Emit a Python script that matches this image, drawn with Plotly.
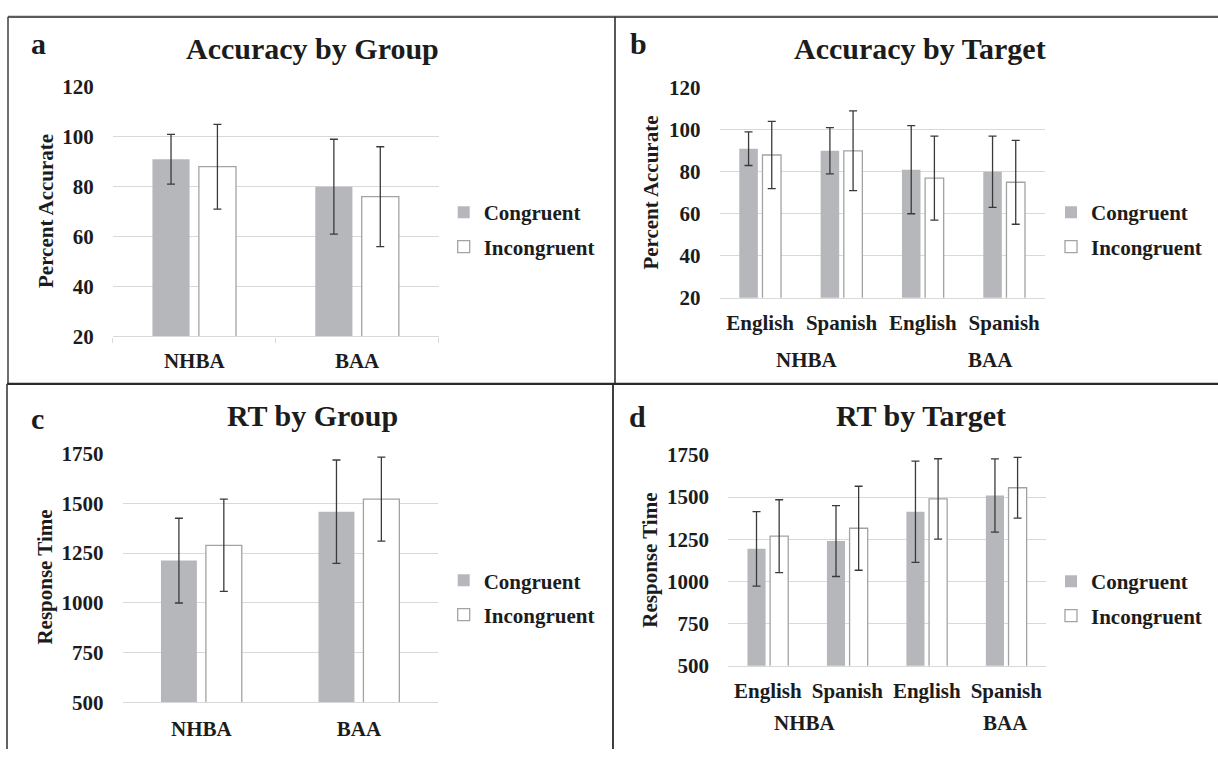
import plotly.graph_objects as go

W, H = 1218, 761

# ---- data -----------------------------------------------------------------
conditions = ["Congruent", "Incongruent"]
groups = ["NHBA", "BAA"]
targets = ["English", "Spanish", "English", "Spanish"]
target_groups = ["NHBA", "NHBA", "BAA", "BAA"]

acc_group_cong = [91, 80]
acc_group_cong_err = [10, 19]
acc_group_incong = [88, 76]
acc_group_incong_err = [17, 20]

acc_target_cong = [91, 90, 81, 80]
acc_target_cong_err = [8, 11, 21, 17]
acc_target_incong = [88, 90, 77, 75]
acc_target_incong_err = [16, 19, 20, 20]

rt_group_cong = [1212, 1458]
rt_group_cong_err = [213, 260]
rt_group_incong = [1289, 1521]
rt_group_incong_err = [232, 211]

rt_target_cong = [1193, 1239, 1413, 1509]
rt_target_cong_err = [221, 210, 300, 217]
rt_target_incong = [1268, 1315, 1489, 1555]
rt_target_incong_err = [216, 249, 238, 180]

acc_ticks = [20, 40, 60, 80, 100, 120]
rt_ticks = [500, 750, 1000, 1250, 1500, 1750]

# ---- styling --------------------------------------------------------------
FONT = "Liberation Serif"
INK = "#1c1c1c"
CONG_FILL = "#b6b7ba"
INCONG_EDGE = "#a3a3a3"
ERR_COLOR = "#3a3a3a"
GRID = "#d9d9d9"
LABEL_SIZE = 21
TITLE_SIZE = 30


def fx(p):
    return p / W


def fy(p):
    return 1 - p / H


target_keys = [f"{g} {t}" for g, t in zip(target_groups, targets)]

panels = [
    ("", groups, acc_group_cong, acc_group_cong_err, acc_group_incong, acc_group_incong_err),
    ("2", target_keys, acc_target_cong, acc_target_cong_err, acc_target_incong, acc_target_incong_err),
    ("3", groups, rt_group_cong, rt_group_cong_err, rt_group_incong, rt_group_incong_err),
    ("4", target_keys, rt_target_cong, rt_target_cong_err, rt_target_incong, rt_target_incong_err),
]

fig = go.Figure()
for suf, xs, cv, ce, iv, ie in panels:
    leg = "legend" + suf
    fig.add_trace(go.Bar(
        x=xs, y=cv, name=conditions[0],
        xaxis="x" + suf, yaxis="y" + suf, legend=leg, legendgroup=f"c{suf}",
        marker=dict(color=CONG_FILL, line=dict(color=CONG_FILL, width=0)),
        error_y=dict(type="data", array=ce, visible=True, color=ERR_COLOR,
                     thickness=1.3, width=4),
    ))
    fig.add_trace(go.Bar(
        x=xs, y=iv, name=conditions[1],
        xaxis="x" + suf, yaxis="y" + suf, legend=leg, legendgroup=f"i{suf}",
        marker=dict(color="white", line=dict(color=INCONG_EDGE, width=1.3)),
        error_y=dict(type="data", array=ie, visible=True, color=ERR_COLOR,
                     thickness=1.3, width=4),
    ))

# plot-area rectangles in pixels: (left, right, top, bottom)
areas = {
    "": (112.8, 438.5, 77.3, 335.0),
    "2": (719.5, 1044.8, 78.3, 295.0),
    "3": (122.6, 437.7, 456.0, 712.7),
    "4": (728.1, 1046.0, 457.3, 675.0),
}
yranges = {"": acc_ticks, "2": acc_ticks, "3": rt_ticks, "4": rt_ticks}
xlabel_standoff = {"": 5, "2": 6, "3": 7, "4": 6}

label_font = dict(family=FONT, size=LABEL_SIZE, color=INK, weight="bold")

layout = dict(
    width=W, height=H,
    margin=dict(l=0, r=0, t=0, b=0),
    paper_bgcolor="white", plot_bgcolor="white",
    font=label_font,
    barmode="group", bargap=0.43, bargroupgap=0.2,
    showlegend=True,
)

for suf, (l, r, t, b) in areas.items():
    ticks = yranges[suf]
    layout["xaxis" + suf] = dict(
        domain=[fx(l), fx(r)], anchor="y" + suf, type="category",
        showline=True, linecolor=GRID, linewidth=1.3,
        showgrid=False, zeroline=False,
        tickfont=label_font, ticks="",
        ticklabelstandoff=xlabel_standoff[suf],
    )
    layout["yaxis" + suf] = dict(
        domain=[fy(b), fy(t)], anchor="x" + suf,
        range=[ticks[0], ticks[-1]], tickvals=ticks,
        showgrid=True, gridcolor=GRID, gridwidth=1.3,
        zeroline=False, showline=False, ticks="",
        tickfont=label_font, ticklabelstandoff=18,
    )

# category boundary ticks on the first panel
layout["xaxis"].update(ticks="outside", tickson="boundaries", ticklen=5,
                       tickcolor=GRID, tickwidth=1.3)
# language labels on the target panels
for suf in ("2", "4"):
    layout["xaxis" + suf].update(tickvals=target_keys, ticktext=targets)

legend_pos = {"": (443.7, 186), "2": (1051, 186), "3": (443.7, 566), "4": (1051, 567)}
for suf, (lx, ly) in legend_pos.items():
    layout["legend" + suf] = dict(
        x=fx(lx), y=fy(ly), xanchor="left", yanchor="top",
        bgcolor="rgba(0,0,0,0)", borderwidth=0, font=label_font,
        traceorder="grouped", tracegroupgap=4,
    )

annotations = []


def text(x, y, s, size=LABEL_SIZE, angle=0):
    annotations.append(dict(
        x=fx(x), y=fy(y), xref="paper", yref="paper", text=s,
        showarrow=False, xanchor="center", yanchor="middle", textangle=angle,
        font=dict(family=FONT, size=size, color=INK, weight="bold"),
    ))


# panel letters
text(38.5, 33, "a", TITLE_SIZE)
text(638, 33, "b", TITLE_SIZE)
text(37.5, 420, "c", TITLE_SIZE)
text(637, 418, "d", TITLE_SIZE)
# panel titles
text(312.6, 38, "Accuracy by Group", TITLE_SIZE)
text(920.3, 38, "Accuracy by Target", TITLE_SIZE)
text(312.8, 417, "RT by Group", TITLE_SIZE)
text(920.7, 417, "RT by Target", TITLE_SIZE)
# y-axis titles
text(45.5, 206, "Percent Accurate", 21, -90)
text(651, 186.5, "Percent Accurate", 21, -90)
text(45, 584, "Response Time", 21, -90)
text(650.5, 566, "Response Time", 21, -90)
# group labels under the language categories
text(807, 359, "NHBA")
text(990.6, 359, "BAA")
text(804.8, 734, "NHBA")
text(1005.3, 734, "BAA")

layout["annotations"] = annotations

# panel frame lines
frame = [
    (8, 5, 1218, 5, "#5a5a5a", 2.2),
    (8, 5, 8, 384, "#4a4a4a", 1.6),
    (615, 5, 615, 384, "#2e2e2e", 1.6),
    (7, 384, 1218, 384, "#2a2a2a", 2.2),
    (7, 384, 7, 761, "#3a3a3a", 1.6),
    (613, 384, 613, 761, "#2a2a2a", 1.8),
]
layout["shapes"] = [
    dict(type="line", xref="paper", yref="paper",
         x0=fx(x0), y0=fy(y0), x1=fx(x1), y1=fy(y1),
         line=dict(color=c, width=w))
    for x0, y0, x1, y1, c, w in frame
]

fig.update_layout(**layout)
fig.write_html("out.html")
